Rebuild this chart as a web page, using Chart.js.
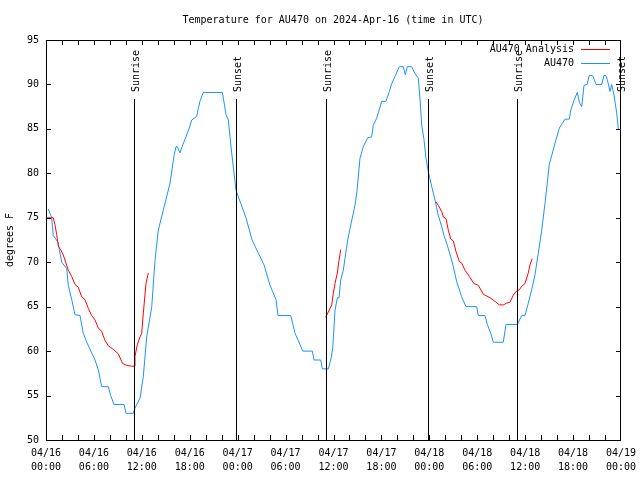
<!doctype html><html lang="en"><head>
<meta charset="UTF-8"><title>Temperature for AU470</title>
<script src="https://cdn.jsdelivr.net/npm/chart.js"></script>
<style>
 body{margin:0;background:#fff}
 canvas{display:block}
</style></head><body>
<canvas id="chart" width="640" height="480"></canvas>
<script>
// ----- data (hours since 04/16 00:00 UTC, deg F) -----
const obsHours = [0.29,0.71,0.91,1.54,1.67,1.97,2.59,2.79,3.22,3.63,4.26,4.67,5.10,5.72,6.14,6.55,6.97,7.80,8.10,8.51,
  9.77,10.02,10.93,11.14,11.77,12.18,12.61,13.24,13.65,14.06,15.53,16.03,16.28,16.44,16.78,17.12,17.53,17.94,18.24,18.87,
  19.07,19.28,19.70,22.08,22.29,22.54,22.83,23.04,23.25,23.79,25.04,25.80,26.55,27.30,28.05,28.80,29.05,30.64,30.89,31.18,
  31.59,32.14,33.35,33.56,34.40,34.60,35.35,35.65,35.90,36.19,36.48,36.69,36.90,37.23,37.53,37.78,38.07,38.69,38.94,39.32,
  39.73,40.28,40.78,40.98,41.41,42.04,42.57,42.99,43.29,43.70,44.24,44.74,44.99,45.24,45.79,46.21,46.62,46.83,47.05,47.33,
  47.58,47.87,48.30,48.71,49.12,49.55,49.84,50.25,50.68,51.00,51.43,52.05,52.59,53.93,54.13,54.97,55.26,55.69,56.01,57.26,
  57.60,59.02,59.57,59.98,60.39,60.82,61.23,61.64,62.07,62.48,62.77,63.02,63.32,63.74,64.28,64.99,65.53,65.70,66.11,66.53,
  66.78,67.08,67.37,67.74,68.03,68.46,68.87,69.58,69.87,70.12,70.41,70.62,70.83,71.12,71.46,71.66,71.79];
const obsTemps = [76,75,73,72.2,71.4,70,69.3,67.4,65.8,64.1,64,62,61,59.8,59,57.9,56,56,55,54,
  54,53,53,53.6,54.7,57.1,61.6,65,70.2,73.6,78.9,82,83,83,82.3,83.2,84.1,85.1,86,86.4,
  87.3,88.1,89.1,89.1,88,86.6,86,84.1,82.3,78.1,75,72.5,71.1,69.7,67.4,65.8,64,64,63.1,62,
  61.2,60,60,59,59,58,58,59,60.3,64.6,66,66,68,69.1,71,72.5,73.8,76.4,78,81.7,
  83,84,84.1,85.4,86.2,88.1,88.1,89.2,90.1,90.9,92,92,91.1,92,92,91.2,90.7,88.4,85.4,83.8,
  81.7,80.2,78.5,77,75.3,74,73,71.9,70.6,69.5,67.8,66.1,65,65,64,64,63,62,61,61,
  63,63,64,64,65.4,66.9,68.6,71,73.6,76.6,78.9,81,82,83.4,85.1,86.1,86.1,87.1,88.2,89.1,
  88,87.5,89.9,90,91,91,90,90,91,91,90.1,89.2,90,88.8,86.8,85,85];

// analysis series: null temps split it into its three runs
const anaHours = [0.09,0.91,1.13,1.34,1.54,1.84,2.17,2.50,2.79,3.22,3.63,4.04,4.47,4.88,5.30,5.72,6.14,6.55,6.97,7.39,
  7.80,8.43,9.05,9.60,10.11,10.73,11.06,11.14,11.43,11.77,11.98,12.18,12.52,12.81,
  24,
  35.02,35.35,35.78,35.98,36.19,36.48,36.69,36.90,
  42,
  48.84,49.12,49.55,49.75,50.09,50.38,50.68,51.00,51.34,51.75,52.05,52.47,53.01,53.59,54.13,54.76,55.60,56.22,56.76,57.26,
  57.69,58.10,58.52,58.85,59.27,59.57,59.98,60.39,60.60,60.89];
const anaTemps = [75,75,74.2,73.1,71.8,71.4,70.8,69.9,69.1,68.4,67.5,67.2,66.1,65.8,64.8,64,63.5,62.6,62.2,61.2,
  60.6,60.2,59.7,58.6,58.4,58.3,58.3,59.4,60.7,61.6,62,64.2,67.6,68.8,
  null,
  63.8,64.4,65.2,66.5,67.6,68.8,70.2,71.4,
  null,
  76.8,76.4,75.7,75.1,74.9,73.6,72.6,72.4,71.2,70.1,69.9,69.1,68.4,67.6,67.4,66.4,66,65.6,65.2,65.2,
  65.4,65.5,66.3,66.7,66.9,67.3,67.6,68.8,69.7,70.4];

const sunriseHours = [11.06, 35.06, 59.02];
const sunsetHours  = [23.85, 47.87, 71.93];

const xTickDays  = ['04/16','04/16','04/16','04/16','04/17','04/17','04/17','04/17','04/18','04/18','04/18','04/18','04/19'];
const xTickTimes = ['00:00','06:00','12:00','18:00','00:00','06:00','12:00','18:00','00:00','06:00','12:00','18:00','00:00'];

const FONT = 'DejaVu Sans Mono';
const BLUE = '#1e90ff', RED = '#ff0000';

Chart.defaults.font.family = FONT;
Chart.defaults.font.size = 10;
Chart.defaults.color = '#000';

// ---- gnuplot-ish frame, inward ticks, sun lines, legend, titles ----
const decor = {
  id:'decor',
  afterDatasetsDraw(chart){
    const {ctx, chartArea:a, scales:{x,y}} = chart;
    ctx.save();
    ctx.strokeStyle = '#000'; ctx.lineWidth = 1;
    ctx.strokeRect(a.left+0.5, a.top+0.5, a.right-a.left-1, a.bottom-a.top);
    ctx.beginPath();
    for(let h=2; h<72; h+=2){
      const px = Math.round(x.getPixelForValue(h))+0.5;
      ctx.moveTo(px,a.bottom); ctx.lineTo(px,a.bottom-5);
      ctx.moveTo(px,a.top);    ctx.lineTo(px,a.top+5);
    }
    for(let t=55; t<95; t+=5){
      const py = Math.round(y.getPixelForValue(t))+0.5;
      ctx.moveTo(a.left,py);  ctx.lineTo(a.left+5,py);
      ctx.moveTo(a.right,py); ctx.lineTo(a.right-5,py);
    }
    ctx.stroke();

    // sunrise / sunset markers
    ctx.font = '10px '+FONT; ctx.fillStyle = '#000';
    const mark = (h, txt) => {
      const px = Math.round(x.getPixelForValue(h))+0.5;
      ctx.beginPath(); ctx.moveTo(px,99); ctx.lineTo(px,a.bottom); ctx.stroke();
      ctx.save(); ctx.translate(px+1.5, 92); ctx.rotate(-Math.PI/2);
      ctx.textAlign='left'; ctx.textBaseline='middle'; ctx.fillText(txt,0,0);
      ctx.restore();
    };
    sunriseHours.forEach(h=>mark(h,'Sunrise'));
    sunsetHours.forEach(h=>mark(h,'Sunset'));

    // legend
    ctx.textAlign='right'; ctx.textBaseline='middle';
    chart.data.datasets.forEach((ds,i)=>{
      const ly = 49 + i*14;
      ctx.fillStyle='#000'; ctx.fillText(ds.label, 574, ly);
      ctx.strokeStyle = ds.borderColor;
      ctx.beginPath(); ctx.moveTo(581,ly+0.5); ctx.lineTo(610,ly+0.5); ctx.stroke();
    });

    // title and y label
    ctx.fillStyle='#000'; ctx.textAlign='center';
    ctx.fillText('Temperature for AU470 on 2024-Apr-16 (time in UTC)', 333, 20);
    ctx.save(); ctx.translate(10, 240); ctx.rotate(-Math.PI/2);
    ctx.fillText('degrees F', 0, 0); ctx.restore();
    ctx.restore();
  }
};

new Chart(document.getElementById('chart'), {
  type:'line',
  data:{datasets:[
    {label:'AU470 Analysis', data:anaHours.map((h,i)=>({x:h,y:anaTemps[i]})),
     borderColor:RED, borderWidth:1, pointRadius:0, spanGaps:false},
    {label:'AU470', data:obsHours.map((h,i)=>({x:h,y:obsTemps[i]})),
     borderColor:BLUE, borderWidth:1, pointRadius:0}
  ]},
  options:{
    responsive:false, animation:false, devicePixelRatio:1,
    layout:{padding:{top:40,right:19,left:0,bottom:0}},
    plugins:{legend:{display:false}, title:{display:false}, tooltip:{enabled:false}},
    elements:{line:{tension:0}},
    scales:{
      x:{type:'linear', min:0, max:72,
         grid:{display:false, drawTicks:false}, border:{display:false},
         afterFit:s=>{s.height=40; s.paddingLeft=0; s.paddingRight=0;},
         ticks:{stepSize:6, autoSkip:false, maxRotation:0, padding:6,
                font:{lineHeight:1.4},
                callback:(v)=>{const i=Math.round(v/6); return [xTickDays[i], xTickTimes[i]];}}},
      y:{min:50, max:95,
         grid:{display:false, drawTicks:false}, border:{display:false},
         afterFit:s=>{s.width=46; s.paddingTop=0; s.paddingBottom=0;},
         ticks:{stepSize:5, padding:7}}
    }
  },
  plugins:[decor]
});
</script>
</body></html>
